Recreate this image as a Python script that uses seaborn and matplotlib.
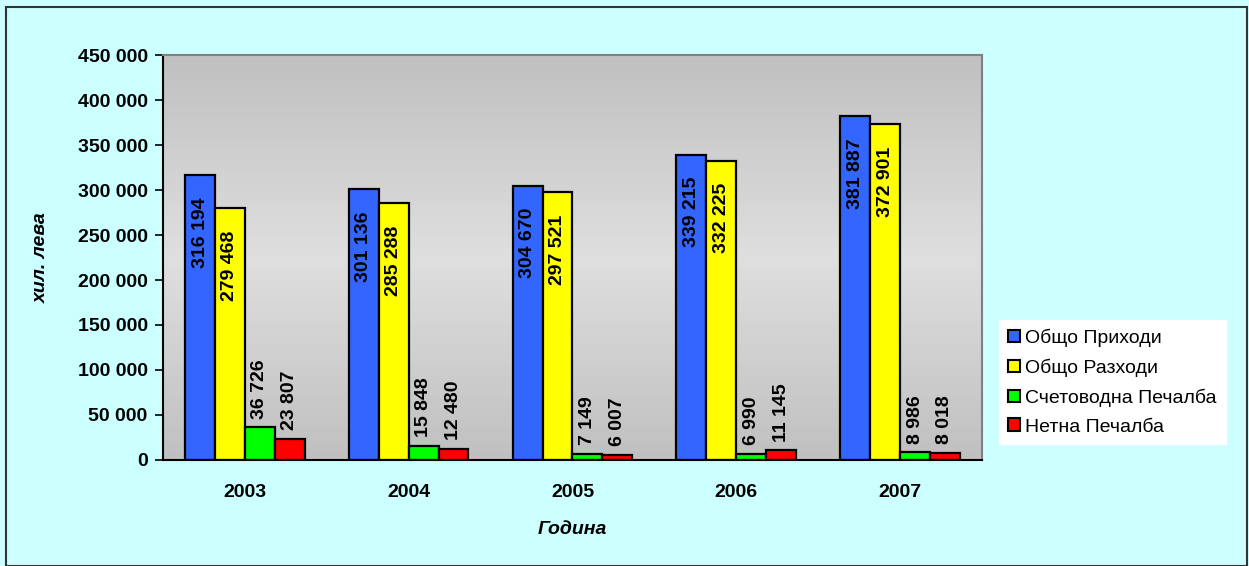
import numpy as np
import pandas as pd
import seaborn as sns
import matplotlib.pyplot as plt
from matplotlib.patches import Rectangle, Patch
from matplotlib.ticker import FuncFormatter

years = ['2003', '2004', '2005', '2006', '2007']
series = ['Общо Приходи', 'Общо Разходи', 'Счетоводна Печалба', 'Нетна Печалба']
income = [316194, 301136, 304670, 339215, 381887]
expenses = [279468, 285288, 297521, 332225, 372901]
acc_profit = [36726, 15848, 7149, 6990, 8986]
net_profit = [23807, 12480, 6007, 11145, 8018]
colors = ['#3366FF', '#FFFF00', '#00FF00', '#FF0000']

df = pd.DataFrame({
    'year': years * 4,
    'series': np.repeat(series, len(years)),
    'value': income + expenses + acc_profit + net_profit,
})

sns.set_theme(style='white')
plt.rcParams['font.family'] = ['Liberation Sans', 'DejaVu Sans']
plt.rcParams['text.color'] = 'black'
plt.rcParams['xtick.color'] = 'black'
plt.rcParams['ytick.color'] = 'black'
plt.rcParams['axes.labelcolor'] = 'black'

fig = plt.figure(figsize=(12.49, 5.66), dpi=100)
fig.patch.set_facecolor('#CCFFFF')
ax = fig.add_axes([0.1305, 0.1873, 0.6557, 0.7155])

# gray gradient background of the plot area
grad = np.concatenate([np.linspace(0.75, 0.87, 50), np.linspace(0.87, 0.75, 50)])
ax.imshow(grad[:, None], cmap='gray', vmin=0, vmax=1, aspect='auto',
          extent=[-0.5, 4.5, 0, 450000], zorder=0)

sns.barplot(data=df, x='year', y='value', hue='series', palette=colors,
            width=0.73, edgecolor='black', linewidth=1.6, saturation=1,
            ax=ax, zorder=2)

ax.set_xlim(-0.5, 4.5)
ax.set_ylim(0, 450000)
ax.set_yticks(np.arange(0, 450001, 50000))
ax.yaxis.set_major_formatter(FuncFormatter(lambda v, p: f'{int(v):,}'.replace(',', ' ')))
ax.set_xticks(np.arange(-0.5, 4.6, 1), minor=True)
ax.tick_params(axis='x', which='major', length=0, pad=17)
ax.tick_params(axis='x', which='minor', length=6, width=1.2, color='black', direction='out')
ax.tick_params(axis='y', length=6, width=1.2, color='black', direction='out', left=True, pad=5)
for lab in ax.get_xticklabels() + ax.get_yticklabels():
    lab.set_fontsize(14)
    lab.set_fontweight('bold')

for s in ['left', 'bottom']:
    ax.spines[s].set_color('black')
    ax.spines[s].set_linewidth(1.5)
for s in ['top', 'right']:
    ax.spines[s].set_color('#808080')
    ax.spines[s].set_linewidth(1.5)

ax.set_xlabel('Година', fontsize=14, fontweight='bold', fontstyle='italic', labelpad=15)
ax.set_ylabel('хил. лева', fontsize=14, fontweight='bold', fontstyle='italic', labelpad=20)

# data labels
for cont in ax.containers:
    for bar in cont:
        h = bar.get_height()
        x = bar.get_x() + bar.get_width() / 2
        txt = f'{int(round(h)):,}'.replace(',', ' ')
        if h > 100000:
            ax.annotate(txt, (x, h), xytext=(0, -16), textcoords='offset points',
                        rotation=90, ha='center', va='top', fontsize=14,
                        fontweight='bold', zorder=3)
        else:
            ax.annotate(txt, (x, h), xytext=(0, 6), textcoords='offset points',
                        rotation=90, ha='center', va='bottom', fontsize=14,
                        fontweight='bold', zorder=3)

ax.get_legend().remove()
handles = [Patch(facecolor=c, edgecolor='black', linewidth=1.5) for c in colors]
leg = fig.legend(handles, series, loc='upper left', bbox_to_anchor=(0.8, 0.435),
                 frameon=True, fancybox=False, fontsize=14, handlelength=0.6,
                 handleheight=0.6, handletextpad=0.3, labelspacing=0.6,
                 borderpad=0.45, borderaxespad=0)
leg.get_frame().set_facecolor('white')
leg.get_frame().set_edgecolor('white')
leg.get_frame().set_alpha(1)

fig.add_artist(Rectangle((0.005, 0.0), 0.993, 0.988, transform=fig.transFigure,
                         fill=False, edgecolor='#333333', linewidth=1.5))

fig.savefig('out.png', dpi=100, facecolor=fig.get_facecolor())
